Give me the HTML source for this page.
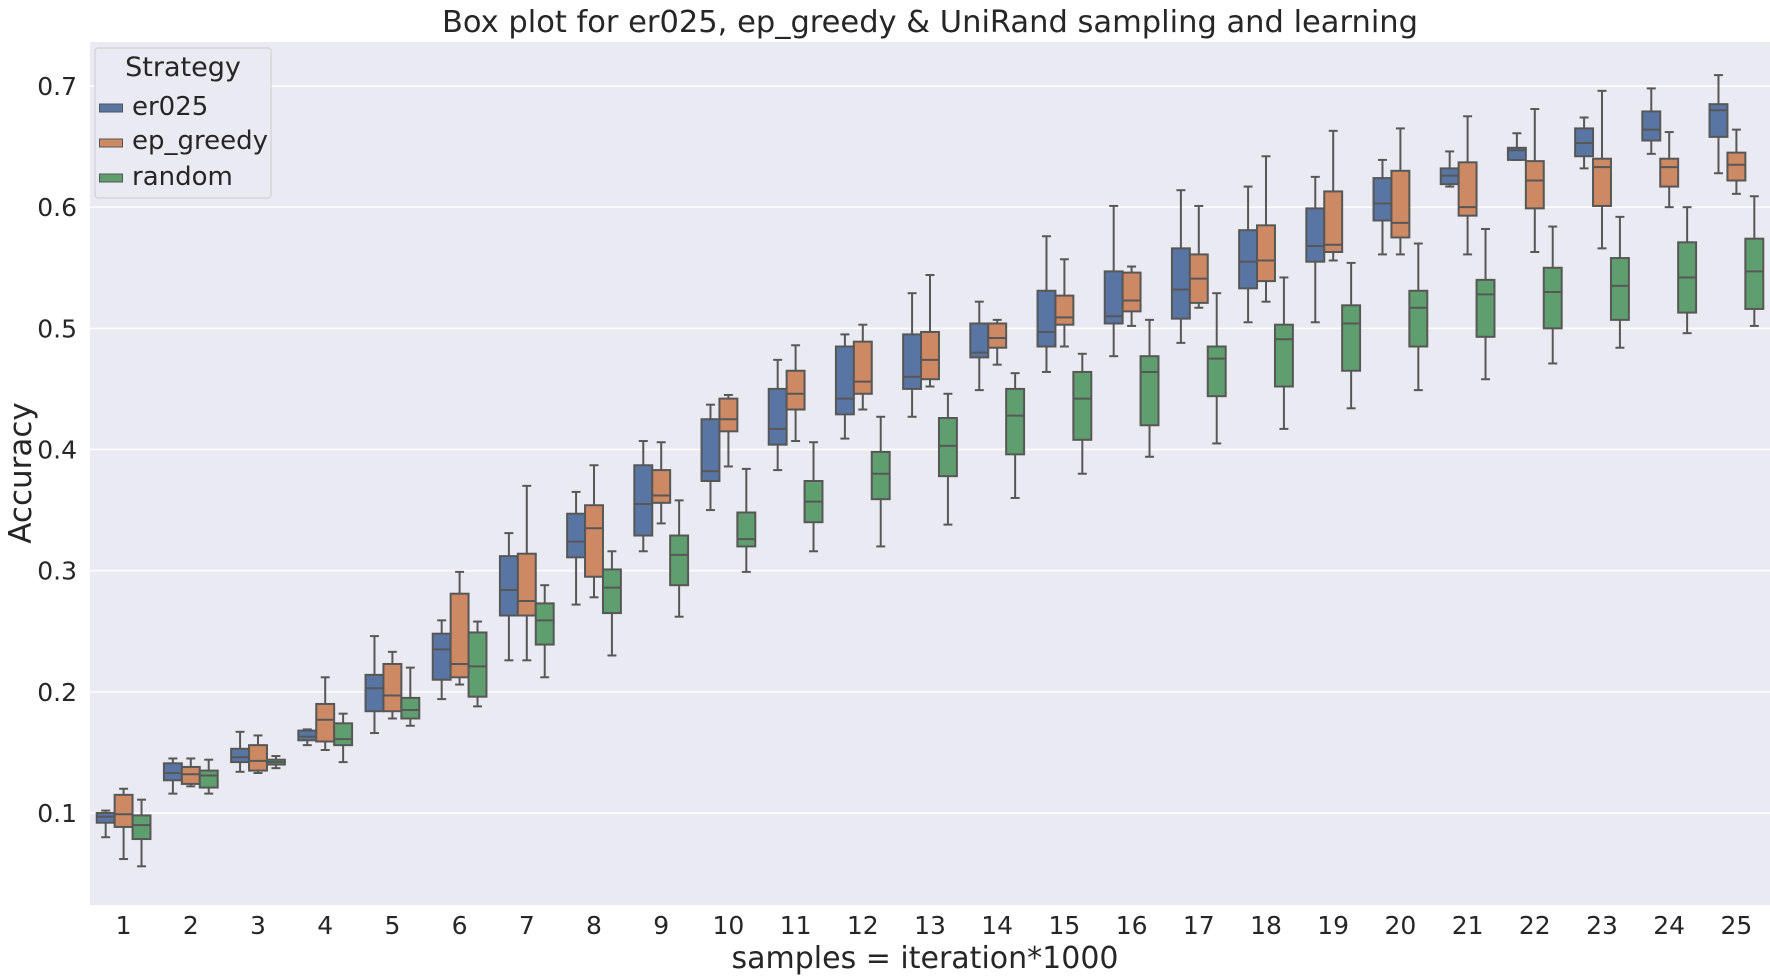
<!DOCTYPE html>
<html><head><meta charset="utf-8"><style>
html,body{margin:0;padding:0;background:#fff;}
svg{display:block;font-family:"DejaVu Sans","Liberation Sans",sans-serif;}
</style></head><body>
<svg id="chart" width="1770" height="979" viewBox="0 0 1770 979" xmlns="http://www.w3.org/2000/svg">
<rect x="90" y="42" width="1680" height="863" fill="#eaeaf2"/>
<g id="grid"></g>
<g id="boxes"></g>
<g id="ticks"></g>
<text x="930" y="32" text-anchor="middle" font-size="30.5" fill="#262626">Box plot for er025, ep_greedy &amp; UniRand sampling and learning</text>
<text transform="translate(31,473) rotate(-90)" text-anchor="middle" font-size="31" fill="#262626">Accuracy</text>
<text x="925" y="968" text-anchor="middle" font-size="30" fill="#262626">samples = iteration*1000</text>
<g>
<rect x="95" y="48" width="176" height="150" rx="3" fill="#eaeaf2" stroke="#cccccc" stroke-width="1"/>
<text x="183" y="76" text-anchor="middle" font-size="27" fill="#262626">Strategy</text>
<rect x="99.5" y="104" width="23" height="8" fill="#5875a4" stroke="#555" stroke-width="1"/>
<text x="132" y="115" font-size="26" fill="#262626">er025</text>
<rect x="99.5" y="139" width="23" height="8" fill="#cc8963" stroke="#555" stroke-width="1"/>
<text x="132" y="149" font-size="26" fill="#262626">ep_greedy</text>
<rect x="99.5" y="174" width="23" height="8" fill="#5f9e6e" stroke="#555" stroke-width="1"/>
<text x="132" y="185" font-size="26" fill="#262626">random</text>
</g>
</svg>
<script>
const categories = ["1","2","3","4","5","6","7","8","9","10","11","12","13","14","15","16","17","18","19","20","21","22","23","24","25"];
const yTicks = [0.1,0.2,0.3,0.4,0.5,0.6,0.7];
const seriesNames = ["er025","ep_greedy","random"];
// each entry: [whisker low, q1, median, q3, whisker high]
const er025Stats = [
[0.080,0.092,0.097,0.100,0.102],[0.116,0.127,0.133,0.141,0.145],[0.134,0.142,0.146,0.153,0.167],[0.156,0.160,0.163,0.168,0.169],
[0.166,0.184,0.203,0.214,0.246],[0.194,0.210,0.235,0.248,0.259],[0.226,0.263,0.284,0.312,0.331],[0.272,0.311,0.324,0.347,0.365],
[0.316,0.329,0.355,0.387,0.407],[0.350,0.374,0.382,0.425,0.437],[0.383,0.404,0.417,0.450,0.474],[0.409,0.429,0.442,0.485,0.495],
[0.427,0.450,0.460,0.495,0.529],[0.449,0.476,0.480,0.504,0.522],[0.464,0.485,0.497,0.531,0.576],[0.477,0.504,0.510,0.547,0.601],
[0.488,0.508,0.532,0.566,0.614],[0.505,0.533,0.555,0.581,0.617],[0.505,0.555,0.568,0.599,0.625],[0.561,0.589,0.603,0.624,0.639],
[0.617,0.619,0.626,0.632,0.646],[0.639,0.639,0.647,0.649,0.661],[0.632,0.642,0.653,0.665,0.674],[0.644,0.655,0.664,0.679,0.698],
[0.628,0.658,0.680,0.685,0.709]];
const epGreedyStats = [
[0.062,0.0885,0.099,0.115,0.120],[0.122,0.124,0.132,0.138,0.145],[0.133,0.135,0.143,0.156,0.164],[0.152,0.159,0.177,0.190,0.212],
[0.178,0.184,0.197,0.223,0.233],[0.206,0.212,0.223,0.281,0.299],[0.226,0.263,0.275,0.314,0.370],[0.278,0.295,0.335,0.354,0.387],
[0.339,0.356,0.362,0.383,0.406],[0.386,0.415,0.425,0.442,0.445],[0.407,0.433,0.446,0.465,0.486],[0.433,0.446,0.456,0.489,0.503],
[0.452,0.458,0.474,0.497,0.544],[0.470,0.484,0.492,0.504,0.507],[0.485,0.503,0.509,0.527,0.557],[0.502,0.514,0.523,0.546,0.551],
[0.517,0.521,0.541,0.561,0.601],[0.522,0.539,0.556,0.585,0.642],[0.556,0.563,0.569,0.613,0.663],[0.561,0.575,0.587,0.630,0.665],
[0.561,0.593,0.600,0.637,0.675],[0.563,0.599,0.622,0.638,0.681],[0.566,0.601,0.633,0.640,0.696],[0.600,0.617,0.633,0.640,0.662],
[0.611,0.622,0.635,0.645,0.664]];
const randomStats = [
[0.056,0.0785,0.090,0.098,0.111],[0.116,0.121,0.131,0.135,0.144],[0.137,0.140,0.142,0.144,0.147],[0.142,0.156,0.161,0.174,0.182],
[0.172,0.178,0.185,0.195,0.220],[0.188,0.196,0.221,0.249,0.258],[0.212,0.239,0.259,0.273,0.288],[0.230,0.265,0.286,0.301,0.316],
[0.262,0.288,0.313,0.329,0.358],[0.299,0.320,0.326,0.348,0.384],[0.316,0.340,0.357,0.374,0.406],[0.320,0.359,0.380,0.398,0.427],
[0.338,0.378,0.403,0.426,0.446],[0.360,0.396,0.428,0.450,0.463],[0.380,0.408,0.442,0.464,0.479],[0.394,0.420,0.464,0.477,0.507],
[0.405,0.444,0.475,0.485,0.529],[0.417,0.452,0.491,0.503,0.542],[0.434,0.465,0.504,0.519,0.554],[0.449,0.485,0.517,0.531,0.570],
[0.458,0.493,0.528,0.540,0.582],[0.471,0.500,0.530,0.550,0.584],[0.484,0.507,0.535,0.558,0.592],[0.496,0.513,0.542,0.571,0.600],
[0.502,0.516,0.547,0.574,0.609]];

const NS = "http://www.w3.org/2000/svg";
const plotL = 90, plotR = 1770, plotT = 42, plotB = 905;
const band = (plotR - plotL) / categories.length;
const boxW = band * 0.8 / 3;
function xCenter(i){ return plotL + band * (i + 0.5); }
function yScale(v){ return 813 - (v - 0.1) * 1211.67; }
function mk(tag, attrs, parent){
  const e = document.createElementNS(NS, tag);
  for (const k in attrs) e.setAttribute(k, attrs[k]);
  parent.appendChild(e);
  return e;
}
const grid = document.getElementById('grid');
const ticks = document.getElementById('ticks');
yTicks.forEach(t => {
  const y = yScale(t);
  const gl = mk('line', {x1: plotL, x2: plotR, y1: y, y2: y, stroke: '#ffffff', 'stroke-width': 1.5}, grid);
  
  
  const tl = mk('text', {x: 77, y: y + 9, 'text-anchor': 'end', 'font-size': 25, fill: '#262626'}, ticks);
  tl.textContent = t.toFixed(1);
  
  
});
categories.forEach((c, i) => {
  const tl = mk('text', {x: xCenter(i), y: 934, 'text-anchor': 'middle', 'font-size': 25, fill: '#262626'}, ticks);
  tl.textContent = c;
  
  
});
const allStats = [er025Stats, epGreedyStats, randomStats];
const colors = ['#5875a4', '#cc8963', '#5f9e6e'];
const boxes = document.getElementById('boxes');
const lc = '#575757';
allStats.forEach((stats, s) => {
  stats.forEach((d, i) => {
    const cx = xCenter(i) + (s - 1) * boxW;
    const x0 = cx - boxW / 2;
    const g = mk('g', {}, boxes);
    
    
    const [lo, q1, md, q3, hi] = d.map(yScale);
    mk('line', {x1: cx, x2: cx, y1: hi, y2: q3, stroke: lc, 'stroke-width': 2}, g);
    mk('line', {x1: cx, x2: cx, y1: q1, y2: lo, stroke: lc, 'stroke-width': 2}, g);
    mk('line', {x1: cx - boxW / 4, x2: cx + boxW / 4, y1: hi, y2: hi, stroke: lc, 'stroke-width': 2}, g);
    mk('line', {x1: cx - boxW / 4, x2: cx + boxW / 4, y1: lo, y2: lo, stroke: lc, 'stroke-width': 2}, g);
    mk('rect', {x: x0, y: q3, width: boxW, height: Math.max(q1 - q3, 0.5), fill: colors[s], stroke: lc, 'stroke-width': 2}, g);
    mk('line', {x1: x0, x2: x0 + boxW, y1: md, y2: md, stroke: lc, 'stroke-width': 2}, g);
  });
});
</script>
</body></html>
